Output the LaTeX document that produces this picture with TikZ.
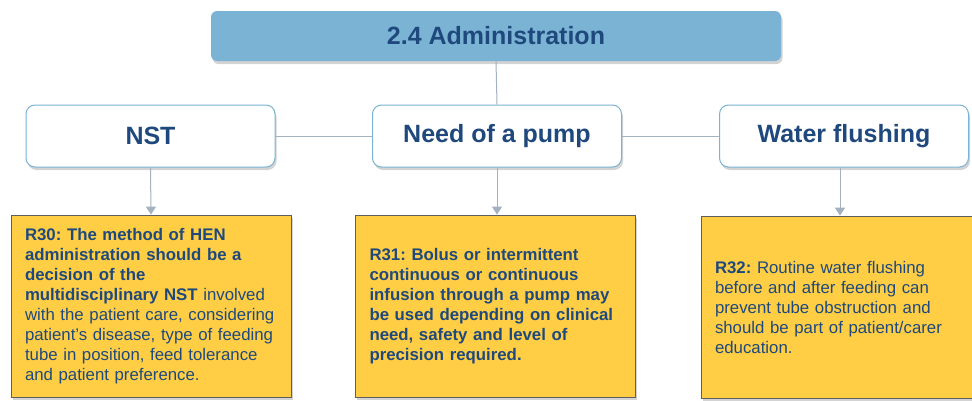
\documentclass[tikz,border=0pt]{standalone}
\usepackage{fontspec}
\setmainfont{Liberation Sans}
\usetikzlibrary{arrows.meta,shadows,positioning}
\definecolor{headblue}{RGB}{122,179,212}
\definecolor{textblue}{RGB}{31,73,125}
\definecolor{linegray}{RGB}{163,177,192}
\definecolor{recyellow}{RGB}{255,206,68}
\definecolor{recedge}{RGB}{95,95,95}
\newcommand{\hdfont}{\fontsize{25}{30}\selectfont\bfseries}
\newcommand{\recfont}{\fontsize{16.8}{20}\selectfont\frenchspacing}
\tikzset{
    shdsty/.style={drop shadow={shadow xshift=1.5pt,shadow yshift=-3pt,opacity=0.35}},
    titlesty/.style={fill=headblue,rounded corners=6pt,minimum width=570pt,minimum height=50pt,text=textblue,font=\hdfont,shdsty},
    topicsty/.style={draw=headblue,line width=1pt,fill=white,rounded corners=9pt,minimum width=249pt,minimum height=62pt,text=textblue,font=\hdfont,shdsty},
    recsty/.style={draw=recedge,line width=0.8pt,fill=recyellow,minimum width=280pt,minimum height=182pt,text width=252pt,inner xsep=14pt,align=left,text=textblue,font=\recfont,shdsty},
    linksty/.style={draw=linegray,line width=1pt},
    arrsty/.style={linksty,-{Triangle[width=10pt,length=8pt]}},
}

\begin{document}
\begin{tikzpicture}[x=1pt,y=-1pt]
  \clip (0,0) rectangle (972,400);

  \node[titlesty] (admin) at (496,36) {2.4 Administration};

  \node[topicsty] (nst)   at (150.5,136) {NST};
  \node[topicsty] (pump)  at (497,136)   {Need of a pump};
  \node[topicsty] (water) at (844,136)   {Water flushing};

  \node[recsty] (rthirty) at (151,306)
  {\textbf{R30: The method of HEN}\\
   \textbf{administration should be a}\\
   \textbf{decision of the}\\
   \textbf{multidisciplinary NST} involved\\
   with the patient care, considering\\
   patient’s disease, type of feeding\\
   tube in position, feed tolerance\\
   and patient preference.};
  \node[recsty] (rthirtyone) at (495.5,306)
  {\bfseries R31: Bolus or intermittent\\
   continuous or continuous\\
   infusion through a pump may\\
   be used depending on clinical\\
   need, safety and level of\\
   precision required.};
  \node[recsty] (rthirtytwo) at (841,307)
  {\textbf{R32:} Routine water flushing\\
   before and after feeding can\\
   prevent tube obstruction and\\
   should be part of patient/carer\\
   education.};

  \draw[linksty] (admin.south) -- (pump.north);
  \draw[linksty] (nst.east) -- (pump.west);
  \draw[linksty] (pump.east) -- (water.west);

  \draw[arrsty] (nst.south) -- (rthirty.north);
  \draw[arrsty] (pump.south) -- (pump.south |- rthirtyone.north);
  \draw[arrsty] ([xshift=-4pt]water.south) -- ([xshift=-4pt]water.south |- rthirtytwo.north);
\end{tikzpicture}
\end{document}
